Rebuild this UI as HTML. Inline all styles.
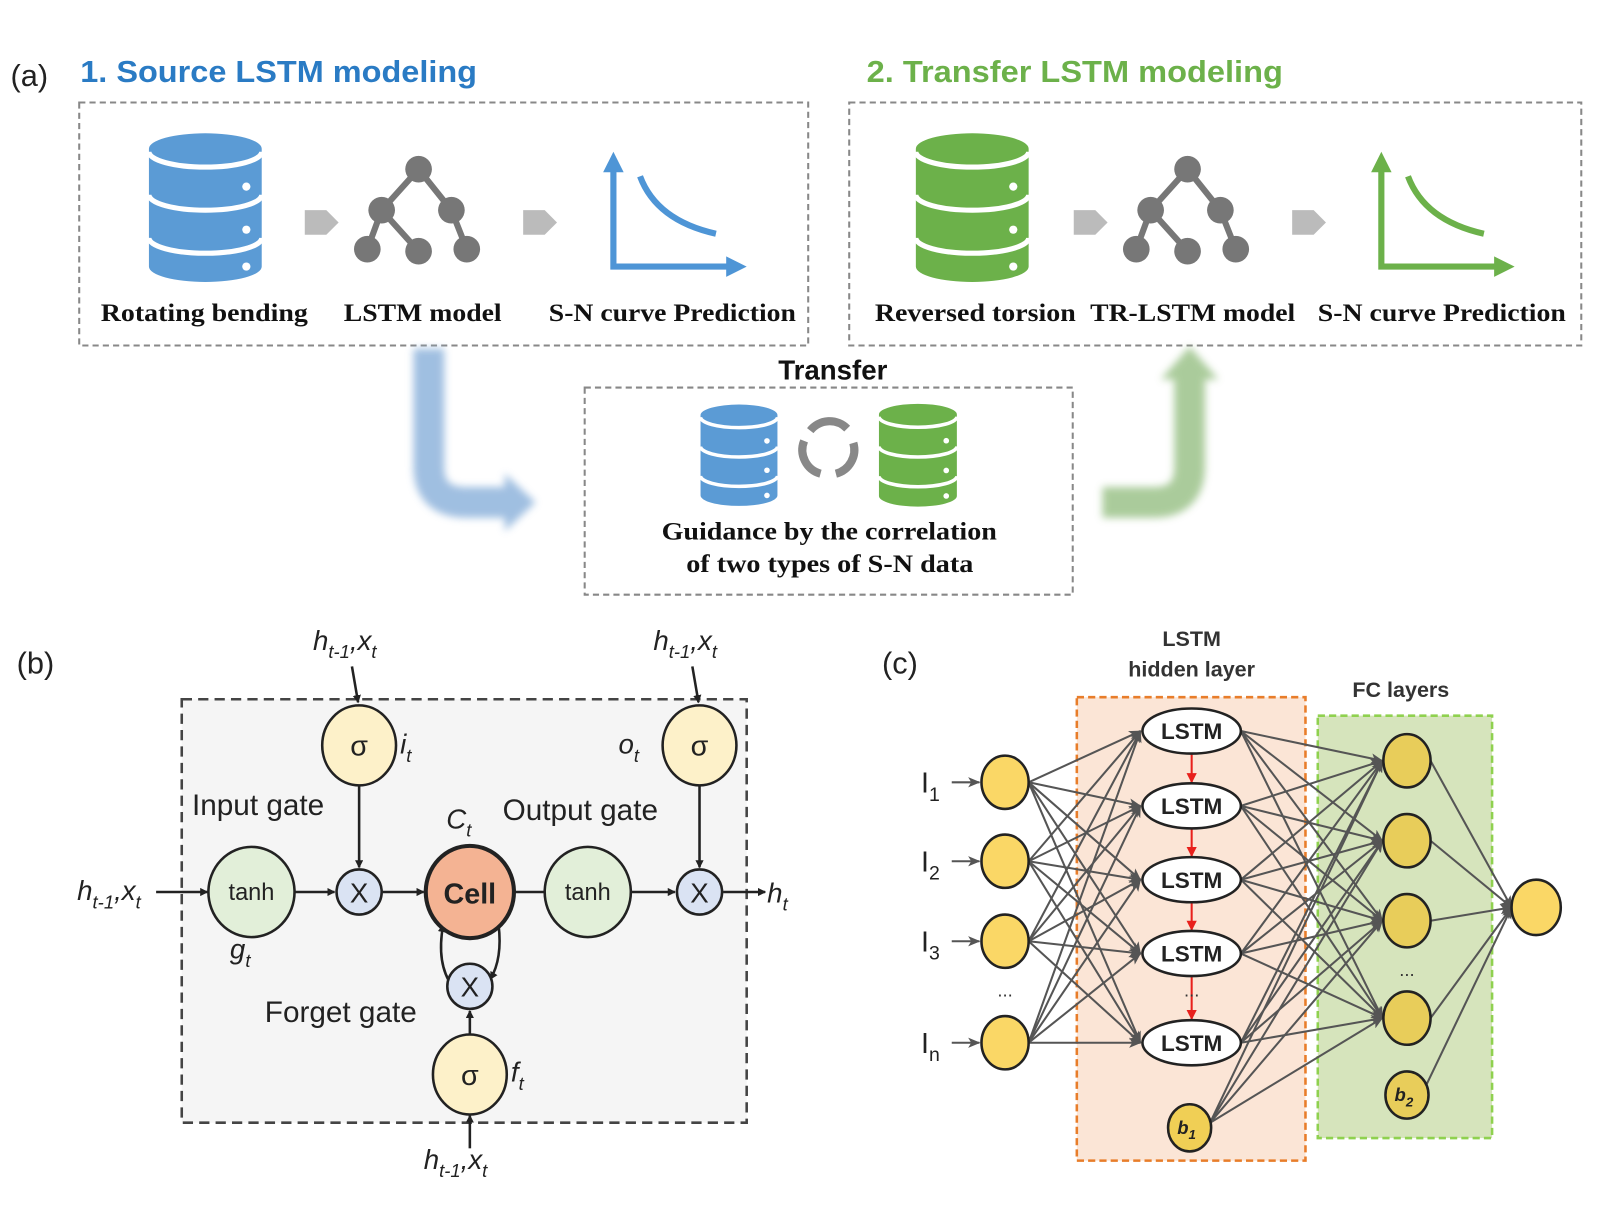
<!DOCTYPE html>
<html><head><meta charset="utf-8"><style>
html,body{margin:0;padding:0;background:#fff;}
svg{display:block;}
.serif{font-family:"Liberation Serif",serif;font-weight:bold;}
.sans{font-family:"Liberation Sans",sans-serif;}
</style></head><body>
<svg width="1600" height="1216" viewBox="0 0 1560 1186" xmlns="http://www.w3.org/2000/svg">
<defs>
<symbol id="cyl" viewBox="0 0 110 145" overflow="visible">
<path d="M0,15 A55,15 0 0 1 110,15 V130 A55,15 0 0 1 0,130 Z"/>
<path d="M0,18 A55,15 0 0 0 110,18 M0,60 A55,15 0 0 0 110,60 M0,102 A55,15 0 0 0 110,102" fill="none" stroke="#fff" stroke-width="5"/>
<circle cx="95" cy="52" r="4" fill="#fff"/><circle cx="95" cy="94" r="4" fill="#fff"/><circle cx="95" cy="130" r="4" fill="#fff"/>
</symbol>
<g id="net" fill="#777" stroke="#777" stroke-width="6">
<path d="M0,0 L-36,40 L-50,78 M-36,40 L0,80 M0,0 L32,40 L47,78" fill="none"/>
<circle cx="0" cy="0" r="13" stroke="none"/><circle cx="-36" cy="40" r="13" stroke="none"/><circle cx="32" cy="40" r="13" stroke="none"/>
<circle cx="-50" cy="78" r="13" stroke="none"/><circle cx="0" cy="80" r="13" stroke="none"/><circle cx="47" cy="78" r="13" stroke="none"/>
</g>
<filter id="blur" x="-30%" y="-30%" width="160%" height="160%"><feGaussianBlur stdDeviation="4"/></filter>
<marker id="ah" markerWidth="8" markerHeight="8" refX="7" refY="4" orient="auto" markerUnits="userSpaceOnUse"><path d="M0,0 L8,4 L0,8 Z" fill="#222"/></marker>
<marker id="ag" markerWidth="12" markerHeight="10" refX="11" refY="5" orient="auto" markerUnits="userSpaceOnUse"><path d="M0,0 L12,5 L0,10 L3,5 Z" fill="#555"/></marker>
<marker id="ar" markerWidth="10" markerHeight="10" refX="9" refY="5" orient="auto" markerUnits="userSpaceOnUse"><path d="M0,0 L10,5 L0,10 Z" fill="#e8201c"/></marker>
</defs>

<!-- (a) -->
<text x="10" y="84" class="sans" font-size="30" fill="#222">(a)</text>
<text x="78" y="80" class="sans" font-size="30" font-weight="bold" fill="#2a7bc4" textLength="387" lengthAdjust="spacingAndGlyphs">1. Source LSTM modeling</text>
<text x="845" y="80" class="sans" font-size="30" font-weight="bold" fill="#6cb14a" textLength="406" lengthAdjust="spacingAndGlyphs">2. Transfer LSTM modeling</text>
<rect x="77" y="100" width="711" height="237" fill="none" stroke="#888" stroke-width="2" stroke-dasharray="6,4"/>
<rect x="828" y="100" width="714" height="237" fill="none" stroke="#888" stroke-width="2" stroke-dasharray="6,4"/>

<use href="#cyl" x="145" y="130" width="110" height="145" fill="#5b9bd5"/>
<polygon points="297,205 318,205 330,217 318,229 297,229" fill="#bbb"/>
<polygon points="510,205 531,205 543,217 531,229 510,229" fill="#bbb"/>
<use href="#net" x="408" y="165"/>
<g stroke="#4e95d6" stroke-width="6" fill="none"><path d="M598,165 V260 H712"/><path d="M624,172 Q640,215 698,228"/></g>
<polygon points="588,168 598,148 608,168" fill="#4e95d6"/><polygon points="708,250 728,260 708,270" fill="#4e95d6"/>

<use href="#cyl" x="893" y="130" width="110" height="145" fill="#6cb14a"/>
<polygon points="1047,205 1068,205 1080,217 1068,229 1047,229" fill="#bbb"/>
<polygon points="1260,205 1281,205 1293,217 1281,229 1260,229" fill="#bbb"/>
<use href="#net" x="1158" y="165"/>
<g stroke="#6cb14a" stroke-width="6" fill="none"><path d="M1347,165 V260 H1460"/><path d="M1373,172 Q1389,215 1447,228"/></g>
<polygon points="1337,168 1347,148 1357,168" fill="#6cb14a"/><polygon points="1457,250 1477,260 1457,270" fill="#6cb14a"/>

<g class="serif" font-size="25" fill="#111" lengthAdjust="spacingAndGlyphs">
<text x="98" y="313" textLength="202" lengthAdjust="spacingAndGlyphs">Rotating bending</text>
<text x="335" y="313" textLength="154" lengthAdjust="spacingAndGlyphs">LSTM model</text>
<text x="535" y="313" textLength="241" lengthAdjust="spacingAndGlyphs">S-N curve Prediction</text>
<text x="853" y="313" textLength="196" lengthAdjust="spacingAndGlyphs">Reversed torsion</text>
<text x="1063" y="313" textLength="200" lengthAdjust="spacingAndGlyphs">TR-LSTM model</text>
<text x="1285" y="313" textLength="242" lengthAdjust="spacingAndGlyphs">S-N curve Prediction</text>
</g>

<g filter="url(#blur)" opacity="0.85">
<path d="M418,340 V455 Q418,490 455,490 H495" fill="none" stroke="#8fb4dc" stroke-width="30"/>
<polygon points="492,462 522,490 492,518" fill="#8fb4dc"/>
<path d="M1075,490 H1125 Q1160,490 1160,455 V368" fill="none" stroke="#9cc38a" stroke-width="30"/>
<polygon points="1132,370 1160,338 1188,370" fill="#9cc38a"/>
</g>

<text x="812" y="370" class="sans" font-size="27" font-weight="bold" text-anchor="middle" fill="#111">Transfer</text>
<rect x="570" y="378" width="476" height="202" fill="none" stroke="#888" stroke-width="2" stroke-dasharray="6,4"/>
<use href="#cyl" x="683" y="393" width="75" height="102" fill="#5b9bd5"/>
<use href="#cyl" x="857" y="393" width="76" height="102" fill="#6cb14a"/>
<g fill="none" stroke="#888" stroke-width="8">
<path d="M790,420 A24,24 0 0 1 826,418"/><path d="M832,432 A24,24 0 0 1 815,462"/><path d="M800,462 A24,24 0 0 1 784,430"/>
</g>
<g class="serif" font-size="25" fill="#111">
<text x="645" y="526" textLength="327" lengthAdjust="spacingAndGlyphs">Guidance by the correlation</text>
<text x="669" y="558" textLength="280" lengthAdjust="spacingAndGlyphs">of two types of S-N data</text>
</g>

<!-- (b) -->
<text x="16" y="657" class="sans" font-size="30" fill="#222">(b)</text>
<rect x="177" y="682" width="551" height="413" fill="#f5f5f5" stroke="#444" stroke-width="2.5" stroke-dasharray="10,6"/>
<g stroke="#222" stroke-width="2.5" fill="none" marker-end="url(#ah)">
<line x1="152" y1="870" x2="202" y2="870"/><line x1="287" y1="870" x2="326" y2="870"/><line x1="373" y1="870" x2="413" y2="870"/>
<line x1="615" y1="870" x2="658" y2="870"/><line x1="705" y1="870" x2="746" y2="870"/>
<line x1="350" y1="767" x2="350" y2="846"/><line x1="682" y1="767" x2="682" y2="846"/>
<line x1="343" y1="650" x2="349" y2="685"/><line x1="675" y1="650" x2="681" y2="685"/>
<line x1="458" y1="1010" x2="458" y2="986"/><line x1="458" y1="1120" x2="458" y2="1088"/>
<path d="M441,962 Q425,940 432,902"/><path d="M486,902 Q490,935 478,955"/>
</g>
<line x1="501" y1="870" x2="531" y2="870" stroke="#222" stroke-width="2.5"/>
<g stroke="#222" stroke-width="2.5">
<ellipse cx="350" cy="727" rx="36" ry="39" fill="#fdf1c9"/><ellipse cx="682" cy="727" rx="36" ry="39" fill="#fdf1c9"/>
<ellipse cx="458" cy="1048" rx="36" ry="39" fill="#fdf1c9"/>
<ellipse cx="245" cy="870" rx="42" ry="44" fill="#e2efd9"/><ellipse cx="573" cy="870" rx="42" ry="44" fill="#e2efd9"/>
<circle cx="350" cy="870" r="22" fill="#dae3f3"/><circle cx="682" cy="870" r="22" fill="#dae3f3"/><circle cx="458" cy="962" r="22" fill="#dae3f3"/>
<ellipse cx="458" cy="870" rx="43" ry="45" fill="#f4b393" stroke-width="4"/>
</g>
<g class="sans" fill="#222" text-anchor="middle">
<text x="350" y="737" font-size="28">σ</text><text x="682" y="737" font-size="28">σ</text><text x="458" y="1058" font-size="28">σ</text>
<text x="245" y="878" font-size="23">tanh</text><text x="573" y="878" font-size="23">tanh</text>
<text x="350" y="880" font-size="27">X</text><text x="682" y="880" font-size="27">X</text><text x="458" y="972" font-size="27">X</text>
<text x="458" y="881" font-size="28" font-weight="bold">Cell</text>
</g>
<g class="sans" fill="#222" font-size="29">
<text x="187" y="795">Input gate</text><text x="490" y="800">Output gate</text><text x="258" y="997">Forget gate</text>
</g>
<g class="sans" fill="#222" font-size="27" font-style="italic">
<text x="390" y="735">i<tspan font-size="18" dy="8">t</tspan></text>
<text x="603" y="735">o<tspan font-size="18" dy="8">t</tspan></text>
<text x="435" y="808">C<tspan font-size="18" dy="8">t</tspan></text>
<text x="224" y="935">g<tspan font-size="18" dy="8">t</tspan></text>
<text x="498" y="1055">f<tspan font-size="18" dy="8">t</tspan></text>
<text x="748" y="880">h<tspan font-size="18" dy="8">t</tspan></text>
<text x="75" y="878">h<tspan font-size="18" dy="8">t-1</tspan><tspan dy="-8">,x</tspan><tspan font-size="18" dy="8">t</tspan></text>
<text x="305" y="634">h<tspan font-size="18" dy="8">t-1</tspan><tspan dy="-8">,x</tspan><tspan font-size="18" dy="8">t</tspan></text>
<text x="637" y="634">h<tspan font-size="18" dy="8">t-1</tspan><tspan dy="-8">,x</tspan><tspan font-size="18" dy="8">t</tspan></text>
<text x="413" y="1140">h<tspan font-size="18" dy="8">t-1</tspan><tspan dy="-8">,x</tspan><tspan font-size="18" dy="8">t</tspan></text>
</g>

<!-- (c) -->
<text x="860" y="657" class="sans" font-size="30" fill="#222">(c)</text>
<rect x="1050" y="680" width="223" height="452" fill="#fbe5d6" stroke="#e87d2a" stroke-width="2.5" stroke-dasharray="7,4"/>
<rect x="1285" y="698" width="170" height="412" fill="#d6e4bc" stroke="#8fd14f" stroke-width="2.5" stroke-dasharray="7,4"/>
<g class="sans" font-size="21" font-weight="bold" fill="#333" text-anchor="middle">
<text x="1162" y="630">LSTM</text><text x="1162" y="660">hidden layer</text><text x="1366" y="680">FC layers</text>
</g>
<g stroke="#555" stroke-width="2" marker-end="url(#ag)">
<line x1="1003" y1="763" x2="1112" y2="713"/><line x1="1003" y1="763" x2="1112" y2="786"/><line x1="1003" y1="763" x2="1112" y2="858"/><line x1="1003" y1="763" x2="1112" y2="930"/><line x1="1003" y1="763" x2="1112" y2="1017"/>
<line x1="1003" y1="840" x2="1112" y2="713"/><line x1="1003" y1="840" x2="1112" y2="786"/><line x1="1003" y1="840" x2="1112" y2="858"/><line x1="1003" y1="840" x2="1112" y2="930"/><line x1="1003" y1="840" x2="1112" y2="1017"/>
<line x1="1003" y1="918" x2="1112" y2="713"/><line x1="1003" y1="918" x2="1112" y2="786"/><line x1="1003" y1="918" x2="1112" y2="858"/><line x1="1003" y1="918" x2="1112" y2="930"/><line x1="1003" y1="918" x2="1112" y2="1017"/>
<line x1="1003" y1="1017" x2="1112" y2="713"/><line x1="1003" y1="1017" x2="1112" y2="786"/><line x1="1003" y1="1017" x2="1112" y2="858"/><line x1="1003" y1="1017" x2="1112" y2="930"/><line x1="1003" y1="1017" x2="1112" y2="1017"/>
<line x1="1210" y1="713" x2="1348" y2="742"/><line x1="1210" y1="713" x2="1348" y2="820"/><line x1="1210" y1="713" x2="1348" y2="898"/><line x1="1210" y1="713" x2="1348" y2="993"/>
<line x1="1210" y1="786" x2="1348" y2="742"/><line x1="1210" y1="786" x2="1348" y2="820"/><line x1="1210" y1="786" x2="1348" y2="898"/><line x1="1210" y1="786" x2="1348" y2="993"/>
<line x1="1210" y1="858" x2="1348" y2="742"/><line x1="1210" y1="858" x2="1348" y2="820"/><line x1="1210" y1="858" x2="1348" y2="898"/><line x1="1210" y1="858" x2="1348" y2="993"/>
<line x1="1210" y1="930" x2="1348" y2="742"/><line x1="1210" y1="930" x2="1348" y2="820"/><line x1="1210" y1="930" x2="1348" y2="898"/><line x1="1210" y1="930" x2="1348" y2="993"/>
<line x1="1210" y1="1017" x2="1348" y2="742"/><line x1="1210" y1="1017" x2="1348" y2="820"/><line x1="1210" y1="1017" x2="1348" y2="898"/><line x1="1210" y1="1017" x2="1348" y2="993"/>
<line x1="1180" y1="1095" x2="1348" y2="742"/><line x1="1180" y1="1095" x2="1348" y2="820"/><line x1="1180" y1="1095" x2="1348" y2="898"/><line x1="1180" y1="1095" x2="1348" y2="993"/>
<line x1="1395" y1="742" x2="1474" y2="885"/><line x1="1395" y1="820" x2="1474" y2="885"/><line x1="1395" y1="898" x2="1474" y2="885"/><line x1="1395" y1="993" x2="1474" y2="885"/><line x1="1390" y1="1060" x2="1474" y2="885"/>
<line x1="928" y1="763" x2="955" y2="763"/><line x1="928" y1="840" x2="955" y2="840"/><line x1="928" y1="918" x2="955" y2="918"/><line x1="928" y1="1017" x2="955" y2="1017"/>
</g>
<g stroke="#e8201c" stroke-width="2" marker-end="url(#ar)">
<line x1="1162" y1="736" x2="1162" y2="763"/><line x1="1162" y1="809" x2="1162" y2="835"/><line x1="1162" y1="881" x2="1162" y2="907"/><line x1="1162" y1="953" x2="1162" y2="994"/>
</g>
<g stroke="#222" stroke-width="2.5" fill="#fad766">
<ellipse cx="980" cy="763" rx="23" ry="26"/><ellipse cx="980" cy="840" rx="23" ry="26"/><ellipse cx="980" cy="918" rx="23" ry="26"/><ellipse cx="980" cy="1017" rx="23" ry="26"/>
<ellipse cx="1372" cy="742" rx="23" ry="26" fill="#e8cd5a"/><ellipse cx="1372" cy="820" rx="23" ry="26" fill="#e8cd5a"/><ellipse cx="1372" cy="898" rx="23" ry="26" fill="#e8cd5a"/><ellipse cx="1372" cy="993" rx="23" ry="26" fill="#e8cd5a"/>
<ellipse cx="1372" cy="1068" rx="21" ry="23" fill="#e8cd5a"/><ellipse cx="1160" cy="1100" rx="21" ry="23" fill="#f0cf55"/>
<ellipse cx="1498" cy="885" rx="24" ry="27"/>
</g>
<g stroke="#222" stroke-width="2.5" fill="#fff">
<ellipse cx="1162" cy="713" rx="48" ry="22"/><ellipse cx="1162" cy="786" rx="48" ry="22"/><ellipse cx="1162" cy="858" rx="48" ry="22"/><ellipse cx="1162" cy="930" rx="48" ry="22"/><ellipse cx="1162" cy="1017" rx="48" ry="22"/>
</g>
<g class="sans" font-size="22" font-weight="bold" fill="#222" text-anchor="middle">
<text x="1162" y="721">LSTM</text><text x="1162" y="794">LSTM</text><text x="1162" y="866">LSTM</text><text x="1162" y="938">LSTM</text><text x="1162" y="1025">LSTM</text>
</g>
<g class="sans" font-size="18" fill="#333" text-anchor="middle">
<text x="980" y="972">...</text><text x="1162" y="972">...</text><text x="1372" y="952">...</text>
</g>
<g class="sans" font-size="18" font-weight="bold" font-style="italic" fill="#222" text-anchor="middle">
<text x="1157" y="1106">b<tspan font-size="13" dy="5">1</tspan></text><text x="1369" y="1074">b<tspan font-size="13" dy="5">2</tspan></text>
</g>
<g class="sans" font-size="28" fill="#222">
<text x="898" y="773">I<tspan font-size="19" dy="8">1</tspan></text>
<text x="898" y="850">I<tspan font-size="19" dy="8">2</tspan></text>
<text x="898" y="928">I<tspan font-size="19" dy="8">3</tspan></text>
<text x="898" y="1027">I<tspan font-size="19" dy="8">n</tspan></text>
</g>
</svg>
</body></html>
